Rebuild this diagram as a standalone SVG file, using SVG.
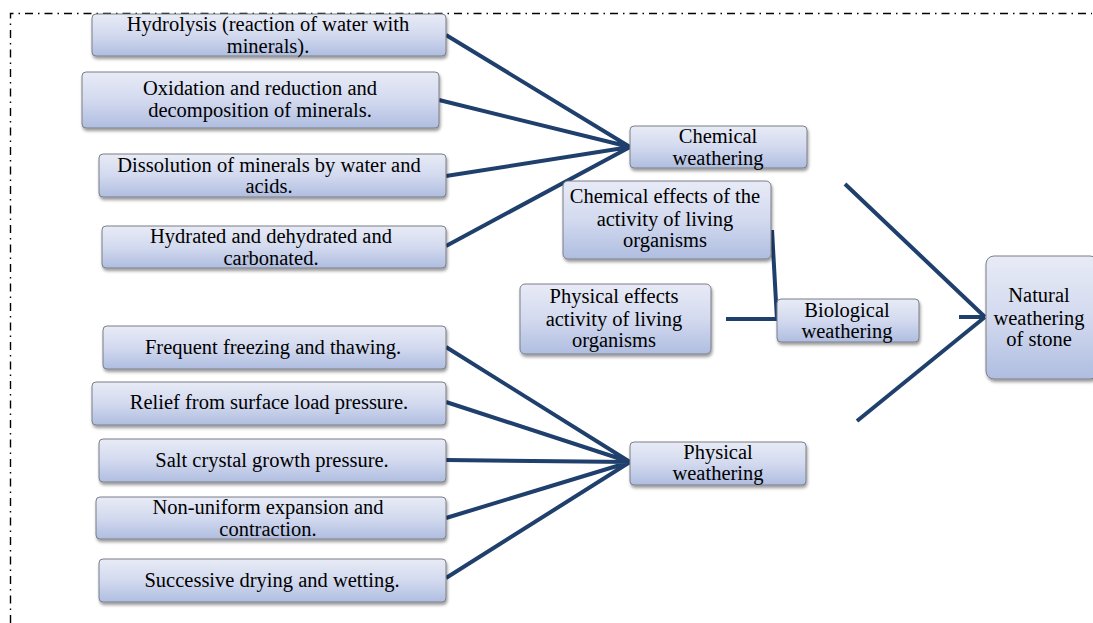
<svg xmlns="http://www.w3.org/2000/svg" width="1093" height="623" viewBox="0 0 1093 623">
<style>
.box{fill:url(#g);stroke:#7b7f88;stroke-width:1;filter:url(#sh)}
.t{font-family:'Liberation Serif','Tinos','Times New Roman','DejaVu Serif',serif;font-size:20.5px;fill:#000;text-anchor:middle}
.c{stroke:#1f3f6c;stroke-width:4;fill:none;stroke-linecap:butt}
</style>
<defs>
<linearGradient id="g" x1="0" y1="0" x2="0" y2="1">
<stop offset="0" stop-color="#e8ebf6"/>
<stop offset="0.5" stop-color="#d3daef"/>
<stop offset="1" stop-color="#afbde0"/>
</linearGradient>
<filter id="sh" x="-5%" y="-10%" width="115%" height="130%">
<feDropShadow dx="1" dy="2.5" stdDeviation="1.5" flood-color="#000" flood-opacity="0.4"/>
</filter>
</defs>
<rect width="1093" height="623" fill="#fff"/>
<path d="M10.5,623 V13.5 H1092" fill="none" stroke="#000" stroke-width="1.4" stroke-dasharray="8,5,1.5,5"/>
<g id="connectors">
<path class="c" d="M446,35 L630,147 M439,100 L630,147 M446,176 L630,147 M446,246 L630,147"/>
<path class="c" d="M446,347 L630,462 M446,402 L630,462 M446,460 L630,462 M446,518 L630,462 M446,578 L630,462"/>
<path class="c" d="M772,230 L777,320 M726,319 L777,319"/>
<path class="c" d="M845,184 L985,317 M857,421 L985,317 M959,317 L985,317"/>
</g>
<g id="hydrolysis"><rect class="box" x="92" y="14" width="354" height="42" rx="4"/><text class="t" x="268" y="31">Hydrolysis (reaction of water with</text><text class="t" x="268" y="53">minerals).</text></g>
<g id="oxidation"><rect class="box" x="82" y="72" width="357" height="56" rx="4"/><text class="t" x="260" y="95">Oxidation and reduction and</text><text class="t" x="260" y="117">decomposition of minerals.</text></g>
<g id="dissolution"><rect class="box" x="99" y="154" width="347" height="43" rx="4"/><text class="t" x="269" y="172">Dissolution of minerals by water and</text><text class="t" x="269" y="193">acids.</text></g>
<g id="hydrated"><rect class="box" x="102" y="226" width="344" height="42" rx="4"/><text class="t" x="271" y="243">Hydrated and dehydrated and</text><text class="t" x="271" y="265">carbonated.</text></g>
<g id="freezing"><rect class="box" x="103" y="326" width="343" height="43" rx="4"/><text class="t" x="273" y="354">Frequent freezing and thawing.</text></g>
<g id="relief"><rect class="box" x="92" y="382" width="354" height="43" rx="4"/><text class="t" x="269" y="409">Relief from surface load pressure.</text></g>
<g id="salt"><rect class="box" x="99" y="439" width="347" height="43" rx="4"/><text class="t" x="272" y="467">Salt crystal growth pressure.</text></g>
<g id="nonuniform"><rect class="box" x="96" y="497" width="350" height="42" rx="4"/><text class="t" x="268" y="514">Non-uniform expansion and</text><text class="t" x="268" y="536">contraction.</text></g>
<g id="successive"><rect class="box" x="99" y="559" width="347" height="43" rx="4"/><text class="t" x="272" y="587">Successive drying and wetting.</text></g>
<g id="chemical"><rect class="box" x="630" y="126" width="177" height="42" rx="4"/><text class="t" x="718" y="143">Chemical</text><text class="t" x="718" y="165">weathering</text></g>
<g id="chemeffects"><rect class="box" x="563" y="181" width="208" height="78" rx="5"/><text class="t" x="665" y="203">Chemical effects of the</text><text class="t" x="665" y="226">activity of living</text><text class="t" x="665" y="247">organisms</text></g>
<g id="physeffects"><rect class="box" x="520" y="284" width="191" height="70" rx="5"/><text class="t" x="614" y="303">Physical effects</text><text class="t" x="614" y="326">activity of living</text><text class="t" x="614" y="347">organisms</text></g>
<g id="biological"><rect class="box" x="777" y="299" width="142" height="43" rx="4"/><text class="t" x="847" y="317">Biological</text><text class="t" x="847" y="338">weathering</text></g>
<g id="natural"><rect class="box" x="986" y="256" width="112" height="123" rx="8"/><text class="t" x="1039" y="302">Natural</text><text class="t" x="1039" y="325">weathering</text><text class="t" x="1039" y="346">of stone</text></g>
<g id="physical"><rect class="box" x="630" y="442" width="176" height="43" rx="4"/><text class="t" x="718" y="459">Physical</text><text class="t" x="718" y="480">weathering</text></g>
</svg>
